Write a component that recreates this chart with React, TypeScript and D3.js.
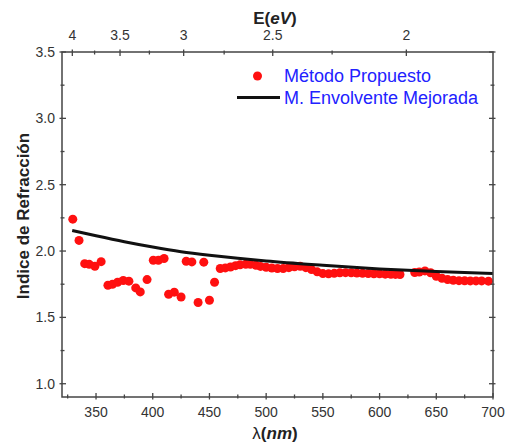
import React, { useEffect, useRef } from "react";
import * as d3 from "d3";

// Método Propuesto (puntos)
const lambdaNm = [
  329.5, 335, 340, 344, 349, 354.5, 360.5, 364.5, 369, 374, 379, 385, 389, 395,
  400.5, 405, 410, 414, 419, 425, 429.5, 434.5, 440, 445, 450, 454.5,
  459.5, 464, 468.5, 473, 477, 482, 486, 491, 495, 500, 505, 510, 515, 520,
  525, 530, 535, 540, 545, 550, 555, 560, 565, 570, 575, 580, 585, 590, 595,
  600, 605, 610, 614, 618, 631, 635, 640, 645, 650, 655, 660, 665, 670, 675,
  680, 685, 690, 696,
];
const nMethod = [
  2.24, 2.08, 1.905, 1.9, 1.885, 1.92, 1.742, 1.75, 1.765, 1.778, 1.773, 1.722,
  1.692, 1.785, 1.931, 1.931, 1.944, 1.674, 1.69, 1.654, 1.923, 1.918, 1.612,
  1.916, 1.629, 1.765,
  1.868, 1.873, 1.88, 1.89, 1.897, 1.9, 1.9, 1.893, 1.884, 1.878, 1.872, 1.868,
  1.868, 1.875, 1.882, 1.885, 1.875, 1.86, 1.843, 1.83, 1.828, 1.832, 1.836,
  1.837, 1.836, 1.834, 1.832, 1.83, 1.829, 1.828, 1.826, 1.825, 1.824, 1.823,
  1.838, 1.842, 1.85, 1.836, 1.81, 1.795, 1.785, 1.78, 1.777, 1.776, 1.775,
  1.775, 1.775, 1.773,
];

// M. Envolvente Mejorada (línea)
const envLambda = [329, 350, 375, 400, 425, 450, 475, 500, 550, 600, 650, 700];
const envN = [2.155, 2.115, 2.07, 2.03, 1.995, 1.968, 1.945, 1.925, 1.893, 1.865, 1.845, 1.83];

const xTicks = [350, 400, 450, 500, 550, 600, 650, 700];
const xMinor = [325, 375, 425, 475, 525, 575, 625, 675];
const yTicks = [1.0, 1.5, 2.0, 2.5, 3.0, 3.5];
const yMinor = [1.25, 1.75, 2.25, 2.75, 3.25];
const eTicks = [4, 3.5, 3, 2.5, 2];
const eMinor = [3.75, 3.25, 2.75, 2.25];

export default function App() {
  const ref = useRef<SVGSVGElement>(null);

  useEffect(() => {
    const svg = d3.select(ref.current);
    svg.selectAll("*").remove();

    const width = 506;
    const height = 446;
    const margin = { top: 52, right: 13, bottom: 49, left: 62 };
    const font = "'Liberation Sans', Arial, sans-serif";
    const axisColor = "#444";

    const x = d3.scaleLinear().domain([320, 700]).range([margin.left, width - margin.right]);
    const y = d3.scaleLinear().domain([0.9, 3.5]).range([height - margin.bottom, margin.top]);
    // escala superior de energía (posición en nm)
    const eToNm = (e: number) => 1178 / e + 34.6;

    const x0 = margin.left, x1 = width - margin.right;
    const y0 = height - margin.bottom, y1 = margin.top;

    svg.append("rect").attr("width", width).attr("height", height).attr("fill", "#fff");

    // Datos
    svg.append("defs").append("clipPath").attr("id", "plotclip")
      .append("rect").attr("x", x0).attr("y", y1).attr("width", x1 - x0).attr("height", y0 - y1);

    const line = d3.line<number>()
      .x((d, i) => x(envLambda[i]))
      .y(d => y(d))
      .curve(d3.curveMonotoneX);

    svg.append("g")
      .attr("clip-path", "url(#plotclip)")
      .selectAll("circle")
      .data(nMethod)
      .enter()
      .append("circle")
      .attr("cx", (d, i) => x(lambdaNm[i]))
      .attr("cy", d => y(d))
      .attr("r", 4.5)
      .attr("fill", "#ff1010");

    svg.append("path")
      .datum(envN)
      .attr("d", line)
      .attr("fill", "none")
      .attr("stroke", "#111")
      .attr("stroke-width", 3);

    // Marco
    svg.append("rect")
      .attr("x", x0).attr("y", y1)
      .attr("width", x1 - x0).attr("height", y0 - y1)
      .attr("fill", "none")
      .attr("stroke", axisColor)
      .attr("stroke-width", 1.5);

    const ticks = svg.append("g").attr("stroke", axisColor).attr("stroke-width", 1.3);
    const hTick = (px: number, py: number, inner: number, outer: number, dir: number) =>
      ticks.append("line").attr("x1", px).attr("x2", px)
        .attr("y1", py - dir * inner).attr("y2", py + dir * outer);
    const vTick = (px: number, py: number, inner: number, outer: number, dir: number) =>
      ticks.append("line").attr("y1", py).attr("y2", py)
        .attr("x1", px + dir * inner).attr("x2", px - dir * outer);

    xTicks.forEach(t => hTick(x(t), y0, 4, 2.5, 1));
    xMinor.forEach(t => hTick(x(t), y0, 2.5, 1.5, 1));
    eTicks.forEach(e => hTick(x(eToNm(e)), y1, 4, 2.5, -1));
    eMinor.forEach(e => hTick(x(eToNm(e)), y1, 2.5, 1.5, -1));
    yTicks.forEach(t => { vTick(x0, y(t), 4, 2.5, 1); vTick(x1, y(t), 4, 2.5, -1); });
    yMinor.forEach(t => { vTick(x0, y(t), 2.5, 1.5, 1); vTick(x1, y(t), 2.5, 1.5, -1); });

    // Etiquetas de ticks
    const labels = svg.append("g").attr("font-family", font).attr("font-size", 14).attr("fill", "#333");
    labels.selectAll("text.xt").data(xTicks).enter().append("text")
      .attr("x", d => x(d)).attr("y", y0 + 20)
      .attr("text-anchor", "middle").text(d => d);
    labels.selectAll("text.et").data(eTicks).enter().append("text")
      .attr("x", d => x(eToNm(d))).attr("y", y1 - 12)
      .attr("text-anchor", "middle").text(d => d);
    labels.selectAll("text.yt").data(yTicks).enter().append("text")
      .attr("x", x0 - 7).attr("y", d => y(d) + 5)
      .attr("text-anchor", "end").text(d => d3.format(".1f")(d));

    // Títulos
    const top = svg.append("text")
      .attr("x", 275).attr("y", 24)
      .attr("text-anchor", "middle")
      .attr("font-family", font).attr("font-size", 17).attr("font-weight", "bold")
      .attr("fill", "#222");
    top.append("tspan").text("E(");
    top.append("tspan").attr("font-style", "italic").text("eV");
    top.append("tspan").text(")");

    const bottom = svg.append("text")
      .attr("x", 275).attr("y", 439)
      .attr("text-anchor", "middle")
      .attr("font-family", font).attr("font-size", 17).attr("font-weight", "bold")
      .attr("fill", "#222");
    bottom.append("tspan").attr("font-weight", "normal").text("λ");
    bottom.append("tspan").text("(");
    bottom.append("tspan").attr("font-style", "italic").text("nm");
    bottom.append("tspan").text(")");

    svg.append("text")
      .attr("transform", "translate(29,216) rotate(-90)")
      .attr("text-anchor", "middle")
      .attr("font-family", font).attr("font-size", 17).attr("font-weight", "bold")
      .attr("fill", "#222")
      .text("Indice de Refracción");

    // Leyenda
    const legend = svg.append("g").attr("font-family", font).attr("font-size", 18).attr("fill", "#2222ff");
    legend.append("circle").attr("cx", 257.5).attr("cy", 76).attr("r", 4.5).attr("fill", "#ff1010");
    legend.append("text").attr("x", 284).attr("y", 82).text("Método Propuesto");
    legend.append("line")
      .attr("x1", 237).attr("x2", 280).attr("y1", 97.5).attr("y2", 97.5)
      .attr("stroke", "#111").attr("stroke-width", 3);
    legend.append("text").attr("x", 284).attr("y", 104).text("M. Envolvente Mejorada");
  }, []);

  return (
    <svg
      ref={ref}
      width={506}
      height={446}
      style={{ position: "fixed", left: 0, top: 0 }}
    />
  );
}
